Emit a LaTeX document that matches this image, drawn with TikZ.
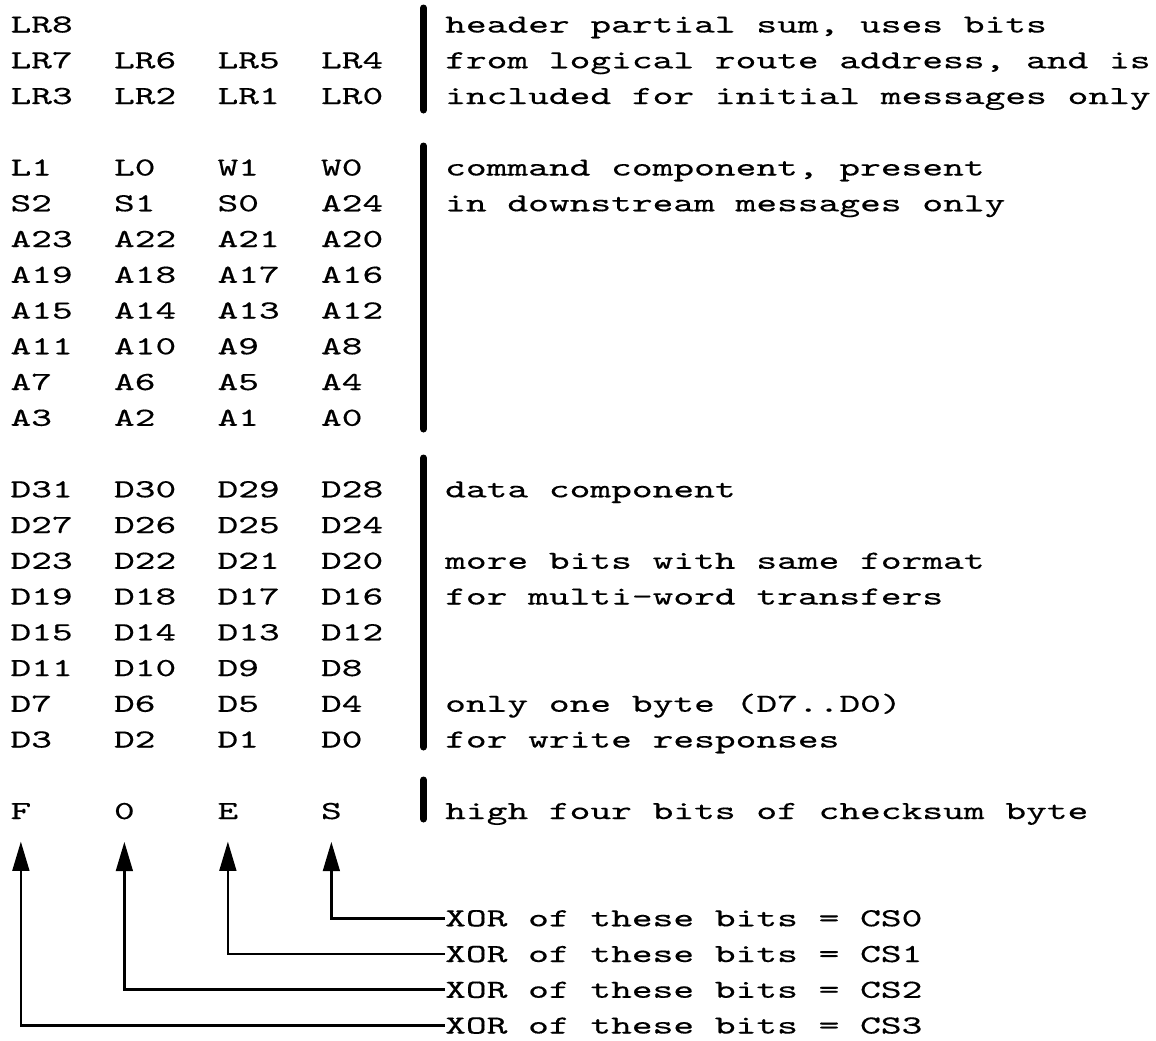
\documentclass[tikz,border=0pt]{standalone}
\usepackage{fontspec}
\usetikzlibrary{arrows.meta}
\newfontfamily\typewr{lmmono10-regular.otf}[FakeStretch=1.52,FakeBold=0.4]

\tikzset{every picture/.style={line width=0.75pt}}
\tikzset{
  bit/.style={anchor=base west, inner sep=0pt, font=\typewr\fontsize{19.5}{22}\selectfont},
  note/.style={bit},
  chk/.style={bit, inner ysep=16.5pt},
  bar/.style={line width=5.25pt, line cap=round},
  xorarrow/.style={line width=2pt, -{Triangle[length=22pt,width=12.5pt]}},
}

\begin{document}
\begin{tikzpicture}[x=0.75pt,y=0.75pt,yscale=-1,xscale=1]
	\useasboundingbox (0,0) rectangle (1156,1040);

	%Straight Lines
	\draw [bar]  (423.5,8) -- (423.5,110) ;
	%Straight Lines
	\draw [bar]  (423.5,146) -- (423.5,429) ;
	%Straight Lines
	\draw [bar]  (423.5,458) -- (423.5,747) ;
	%Straight Lines
	\draw [bar]  (423.5,780) -- (423.5,819) ;

	% Text Node
	\draw (10,32.5) node [bit] (lr8) {LR8};
	% Text Node
	\draw (444.7,32.5) node [note] (hdr1) {header partial sum, uses bits};
	% Text Node
	\draw (10,68.25) node [bit] (lr7) {LR7};
	% Text Node
	\draw (113.5,68.25) node [bit] (lr6) {LR6};
	% Text Node
	\draw (217,68.25) node [bit] (lr5) {LR5};
	% Text Node
	\draw (320.5,68.25) node [bit] (lr4) {LR4};
	% Text Node
	\draw (444.7,68.25) node [note] (hdr2) {from logical route address, and is};
	% Text Node
	\draw (10,104) node [bit] (lr3) {LR3};
	% Text Node
	\draw (113.5,104) node [bit] (lr2) {LR2};
	% Text Node
	\draw (217,104) node [bit] (lr1) {LR1};
	% Text Node
	\draw (320.5,104) node [bit] (lr0) {LR0};
	% Text Node
	\draw (444.7,104) node [note] (hdr3) {included for initial messages only};

	% Text Node
	\draw (10,175.5) node [bit] (l1) {L1};
	% Text Node
	\draw (113.5,175.5) node [bit] (l0) {L0};
	% Text Node
	\draw (217,175.5) node [bit] (w1) {W1};
	% Text Node
	\draw (320.5,175.5) node [bit] (w0) {W0};
	% Text Node
	\draw (444.7,175.5) node [note] (cmd1) {command component, present};
	% Text Node
	\draw (10,211.25) node [bit] (s2) {S2};
	% Text Node
	\draw (113.5,211.25) node [bit] (s1) {S1};
	% Text Node
	\draw (217,211.25) node [bit] (s0) {S0};
	% Text Node
	\draw (320.5,211.25) node [bit] (a24) {A24};
	% Text Node
	\draw (444.7,211.25) node [note] (cmd2) {in downstream messages only};
	% Text Node
	\draw (10,247) node [bit] (a23) {A23};
	% Text Node
	\draw (113.5,247) node [bit] (a22) {A22};
	% Text Node
	\draw (217,247) node [bit] (a21) {A21};
	% Text Node
	\draw (320.5,247) node [bit] (a20) {A20};
	% Text Node
	\draw (10,282.75) node [bit] (a19) {A19};
	% Text Node
	\draw (113.5,282.75) node [bit] (a18) {A18};
	% Text Node
	\draw (217,282.75) node [bit] (a17) {A17};
	% Text Node
	\draw (320.5,282.75) node [bit] (a16) {A16};
	% Text Node
	\draw (10,318.5) node [bit] (a15) {A15};
	% Text Node
	\draw (113.5,318.5) node [bit] (a14) {A14};
	% Text Node
	\draw (217,318.5) node [bit] (a13) {A13};
	% Text Node
	\draw (320.5,318.5) node [bit] (a12) {A12};
	% Text Node
	\draw (10,354.25) node [bit] (a11) {A11};
	% Text Node
	\draw (113.5,354.25) node [bit] (a10) {A10};
	% Text Node
	\draw (217,354.25) node [bit] (a9) {A9};
	% Text Node
	\draw (320.5,354.25) node [bit] (a8) {A8};
	% Text Node
	\draw (10,390) node [bit] (a7) {A7};
	% Text Node
	\draw (113.5,390) node [bit] (a6) {A6};
	% Text Node
	\draw (217,390) node [bit] (a5) {A5};
	% Text Node
	\draw (320.5,390) node [bit] (a4) {A4};
	% Text Node
	\draw (10,425.75) node [bit] (a3) {A3};
	% Text Node
	\draw (113.5,425.75) node [bit] (a2) {A2};
	% Text Node
	\draw (217,425.75) node [bit] (a1) {A1};
	% Text Node
	\draw (320.5,425.75) node [bit] (a0) {A0};

	% Text Node
	\draw (10,497.25) node [bit] (d31) {D31};
	% Text Node
	\draw (113.5,497.25) node [bit] (d30) {D30};
	% Text Node
	\draw (217,497.25) node [bit] (d29) {D29};
	% Text Node
	\draw (320.5,497.25) node [bit] (d28) {D28};
	% Text Node
	\draw (444.7,497.25) node [note] (data1) {data component};
	% Text Node
	\draw (10,533) node [bit] (d27) {D27};
	% Text Node
	\draw (113.5,533) node [bit] (d26) {D26};
	% Text Node
	\draw (217,533) node [bit] (d25) {D25};
	% Text Node
	\draw (320.5,533) node [bit] (d24) {D24};
	% Text Node
	\draw (10,568.75) node [bit] (d23) {D23};
	% Text Node
	\draw (113.5,568.75) node [bit] (d22) {D22};
	% Text Node
	\draw (217,568.75) node [bit] (d21) {D21};
	% Text Node
	\draw (320.5,568.75) node [bit] (d20) {D20};
	% Text Node
	\draw (444.7,568.75) node [note] (more1) {more bits with same format};
	% Text Node
	\draw (10,604.5) node [bit] (d19) {D19};
	% Text Node
	\draw (113.5,604.5) node [bit] (d18) {D18};
	% Text Node
	\draw (217,604.5) node [bit] (d17) {D17};
	% Text Node
	\draw (320.5,604.5) node [bit] (d16) {D16};
	% Text Node
	\draw (444.7,604.5) node [note] (more2) {for multi-word transfers};
	% Text Node
	\draw (10,640.25) node [bit] (d15) {D15};
	% Text Node
	\draw (113.5,640.25) node [bit] (d14) {D14};
	% Text Node
	\draw (217,640.25) node [bit] (d13) {D13};
	% Text Node
	\draw (320.5,640.25) node [bit] (d12) {D12};
	% Text Node
	\draw (10,676) node [bit] (d11) {D11};
	% Text Node
	\draw (113.5,676) node [bit] (d10) {D10};
	% Text Node
	\draw (217,676) node [bit] (d9) {D9};
	% Text Node
	\draw (320.5,676) node [bit] (d8) {D8};
	% Text Node
	\draw (10,711.75) node [bit] (d7) {D7};
	% Text Node
	\draw (113.5,711.75) node [bit] (d6) {D6};
	% Text Node
	\draw (217,711.75) node [bit] (d5) {D5};
	% Text Node
	\draw (320.5,711.75) node [bit] (d4) {D4};
	% Text Node
	\draw (444.7,711.75) node [note] (byte1) {only one byte (D7..D0)};
	% Text Node
	\draw (10,747.5) node [bit] (d3) {D3};
	% Text Node
	\draw (113.5,747.5) node [bit] (d2) {D2};
	% Text Node
	\draw (217,747.5) node [bit] (d1) {D1};
	% Text Node
	\draw (320.5,747.5) node [bit] (d0) {D0};
	% Text Node
	\draw (444.7,747.5) node [note] (byte2) {for write responses};

	% Text Node
	\draw (10,819) node [chk] (ckf) {F};
	% Text Node
	\draw (113.5,819) node [chk] (cko) {0};
	% Text Node
	\draw (217,819) node [chk] (cke) {E};
	% Text Node
	\draw (320.5,819) node [chk] (cks) {S};
	% Text Node
	\draw (444.7,819) node [note] (high) {high four bits of checksum byte};

	% Text Node
	\draw (444.7,926.25) node [note] (xor0) {XOR of these bits = CS0};
	% Text Node
	\draw (444.7,962) node [note] (xor1) {XOR of these bits = CS1};
	% Text Node
	\draw (444.7,997.75) node [note] (xor2) {XOR of these bits = CS2};
	% Text Node
	\draw (444.7,1033.5) node [note] (xor3) {XOR of these bits = CS3};

	%Straight Lines
	\draw [xorarrow]  (xor0.west) -| (cks.south) ;
	%Straight Lines
	\draw [xorarrow]  (xor1.west) -| (cke.south) ;
	%Straight Lines
	\draw [xorarrow]  (xor2.west) -| (cko.south) ;
	%Straight Lines
	\draw [xorarrow]  (xor3.west) -| (ckf.south) ;

\end{tikzpicture}
\end{document}
